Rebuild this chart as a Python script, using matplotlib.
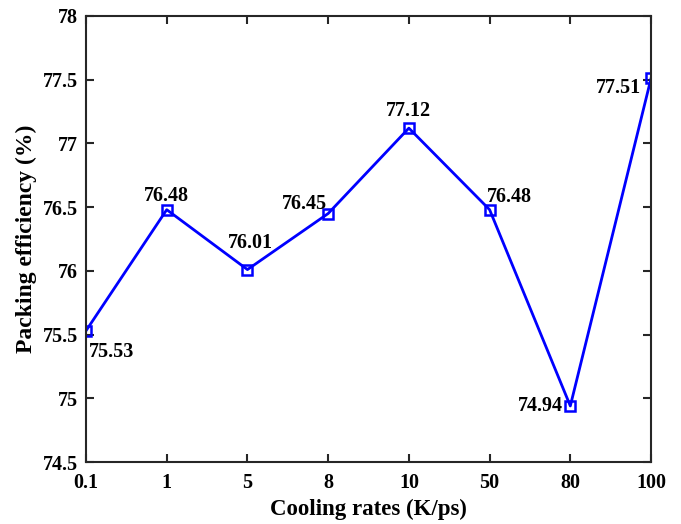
import matplotlib
matplotlib.use("Agg")
import matplotlib.pyplot as plt

# data
rates = ["0.1", "1", "5", "8", "10", "50", "80", "100"]
efficiency = [75.53, 76.48, 76.01, 76.45, 77.12, 76.48, 74.94, 77.51]
y_ticks = [74.5, 75, 75.5, 76, 76.5, 77, 77.5, 78]
y_tick_labels = ["74.5", "75", "75.5", "76", "76.5", "77", "77.5", "78"]

# label offsets (points) and alignment for each value label
label_offsets = [(2, -15), (0, 10), (2, 19), (-1, 7), (0, 12), (-2, 9), (-5, 0), (-7, -7)]
label_ha = ["left", "center", "center", "right", "center", "left", "right", "right"]

plt.rcParams['font.family'] = ['Liberation Serif', 'DejaVu Serif']
plt.rcParams['font.weight'] = 'bold'

fig = plt.figure(figsize=(6.81, 5.24), dpi=100)
ax = fig.add_axes([0.1263, 0.1183, 0.8297, 0.8512])

x = list(range(len(rates)))
ax.plot(x, efficiency, color='#0000ff', lw=2, marker='s', ms=7,
        mfc='none', mec='#0000ff', mew=1.8)

for xi, v, off, ha in zip(x, efficiency, label_offsets, label_ha):
    ax.annotate(f"{v:.2f}", (xi, v), xytext=off, textcoords='offset points',
                ha=ha, va='center', fontsize=14.5, fontweight='bold', color='black')

ax.set_xlim(0, len(rates) - 1)
ax.set_ylim(74.5, 78)
ax.set_xticks(x)
ax.set_xticklabels(rates)
ax.set_yticks(y_ticks)
ax.set_yticklabels(y_tick_labels)

for s in ax.spines.values():
    s.set_linewidth(1.5)
    s.set_color('#262626')
ax.tick_params(direction='in', length=6, width=1.5, color='#262626',
               top=True, right=True, labelsize=14.5, pad=8)
ax.tick_params(axis='y', pad=6)
for lab in ax.get_xticklabels() + ax.get_yticklabels():
    lab.set_fontweight('bold')

ax.set_xlabel("Cooling rates (K/ps)", fontsize=16.5, fontweight='bold', labelpad=4)
ax.set_ylabel("Packing efficiency (%)", fontsize=17, fontweight='bold', labelpad=4)

fig.savefig("out.png", dpi=100)
